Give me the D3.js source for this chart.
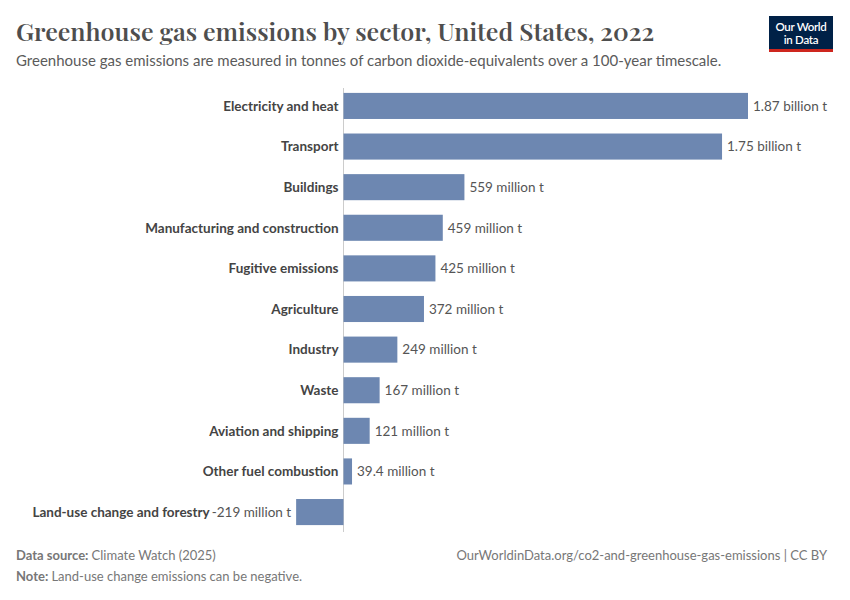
<!DOCTYPE html>
<html><head><meta charset="utf-8">
<script src="https://cdn.jsdelivr.net/npm/d3@7"></script>
<style>body{margin:0;background:#fff}svg{display:block}</style>
</head><body><div id="chart"></div>
<script>
const categories = ["Electricity and heat","Transport","Buildings","Manufacturing and construction","Fugitive emissions","Agriculture","Industry","Waste","Aviation and shipping","Other fuel combustion","Land-use change and forestry"];
const values = [1.87e9,1.75e9,559e6,459e6,425e6,372e6,249e6,167e6,121e6,39.4e6,-219e6];
const valueLabels = ["1.87 billion t","1.75 billion t","559 million t","459 million t","425 million t","372 million t","249 million t","167 million t","121 million t","39.4 million t","-219 million t"];

const W=850,H=600;
const svg=d3.select("#chart").append("svg").attr("width",W).attr("height",H);
const sans="Lato, 'Noto Sans', sans-serif";

svg.append("text").attr("x",16).attr("y",41).attr("font-family","'Playfair Display', 'Liberation Serif', 'DejaVu Serif', serif")
 .attr("font-size",25).attr("font-weight",600).attr("fill","#4e4e4e").text("Greenhouse gas emissions by sector, United States, 2022");
svg.append("text").attr("x",16).attr("y",66).attr("font-family",sans).attr("font-size",15).attr("fill","#5b5b5b")
 .text("Greenhouse gas emissions are measured in tonnes of carbon dioxide-equivalents over a 100-year timescale.");

// logo
const lg=svg.append("g");
lg.append("rect").attr("x",769).attr("y",16).attr("width",64).attr("height",36).attr("fill","#002147");
lg.append("rect").attr("x",769).attr("y",49).attr("width",64).attr("height",3).attr("fill","#ce261e");
lg.append("text").attr("x",801).attr("y",31).attr("text-anchor","middle").attr("font-family",sans).attr("font-size",11.5).attr("font-weight",600).attr("fill","#fff").attr("letter-spacing",-0.3).text("Our World");
lg.append("text").attr("x",801).attr("y",44).attr("text-anchor","middle").attr("font-family",sans).attr("font-size",11.5).attr("font-weight",600).attr("fill","#fff").attr("letter-spacing",-0.3).text("in Data");

const x=d3.scaleLinear().domain([0,1.87e9]).range([343.5,748]);
const y=d3.scaleBand().domain(categories).range([86,532]).paddingInner(0.358).paddingOuter(0.17);

svg.append("line").attr("x1",x(0)).attr("x2",x(0)).attr("y1",88).attr("y2",532).attr("stroke","#ccc").attr("stroke-width",1);

const fs=13.5;
const g=svg.append("g");
categories.forEach((c,i)=>{
  const v=values[i];
  const x0=Math.min(x(0),x(v)), x1=Math.max(x(0),x(v));
  g.append("rect").attr("x",x0).attr("y",y(c)).attr("width",x1-x0).attr("height",y.bandwidth()).attr("fill","#6d87b1");
  const cy=y(c)+y.bandwidth()/2;
  if(v>=0){
    g.append("text").attr("x",x(0)-5).attr("y",cy).attr("dy","0.35em").attr("text-anchor","end").attr("font-family",sans).attr("font-size",fs).attr("font-weight",700).attr("fill","#444").text(c);
    g.append("text").attr("x",x(v)+5).attr("y",cy).attr("dy","0.35em").attr("font-family",sans).attr("font-size",fs).attr("fill","#555").text(valueLabels[i]);
  } else {
    const vt=g.append("text").attr("x",x(v)-5).attr("y",cy).attr("dy","0.35em").attr("text-anchor","end").attr("font-family",sans).attr("font-size",fs).attr("fill","#555").text(valueLabels[i]);
    const w=vt.node().getComputedTextLength();
    g.append("text").attr("x",x(v)-5-w-2).attr("y",cy).attr("dy","0.35em").attr("text-anchor","end").attr("font-family",sans).attr("font-size",fs).attr("font-weight",700).attr("fill","#444").text(c);
  }
});

const f1=svg.append("text").attr("x",16).attr("y",560).attr("font-family",sans).attr("font-size",13).attr("fill","#777");
f1.append("tspan").attr("font-weight",700).text("Data source: ");
f1.append("tspan").text("Climate Watch (2025)");
const f2=svg.append("text").attr("x",16).attr("y",581).attr("font-family",sans).attr("font-size",13).attr("fill","#777");
f2.append("tspan").attr("font-weight",700).text("Note: ");
f2.append("tspan").text("Land-use change emissions can be negative.");
svg.append("text").attr("x",827).attr("y",560).attr("text-anchor","end").attr("font-family",sans).attr("font-size",13).attr("fill","#777").text("OurWorldinData.org/co2-and-greenhouse-gas-emissions | CC BY");
</script></body></html>
